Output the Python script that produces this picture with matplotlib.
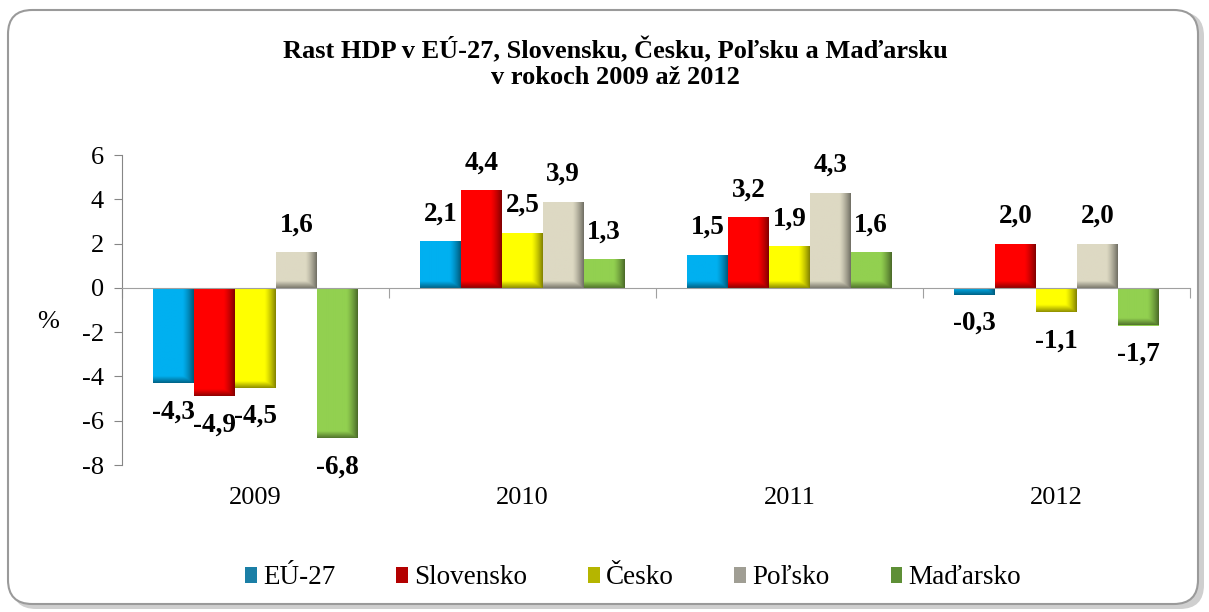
import numpy as np
import matplotlib
matplotlib.use("Agg")
import matplotlib.pyplot as plt
from matplotlib.patches import FancyBboxPatch, Rectangle
from matplotlib.colors import to_rgb
import matplotlib.transforms as mtransforms

years = ["2009", "2010", "2011", "2012"]
series = ["EÚ-27", "Slovensko", "Česko", "Poľsko", "Maďarsko"]
eu27 = [-4.3, 2.1, 1.5, -0.3]
slovensko = [-4.9, 4.4, 3.2, 2.0]
cesko = [-4.5, 2.5, 1.9, -1.1]
polsko = [1.6, 3.9, 4.3, 2.0]
madarsko = [-6.8, 1.3, 1.6, -1.7]
values = [eu27, slovensko, cesko, polsko, madarsko]
colors = ["#00B0F0", "#FF0000", "#FFFF00", "#DDD9C3", "#92D050"]
legend_colors = ["#1B7FA6", "#B30000", "#B5B500", "#A09E94", "#5E8F36"]
yticks = [-8, -6, -4, -2, 0, 2, 4, 6]

plt.rcParams['font.family'] = ['Liberation Serif', 'DejaVu Serif']
FS = 19

W, H = 1209, 612
fig = plt.figure(figsize=(W / 100, H / 100), dpi=100)

# frame with shadow
shadow = FancyBboxPatch((12 / W, 3 / H), 1192 / W, 597 / H,
                        boxstyle="round,pad=0,rounding_size=0.02",
                        transform=fig.transFigure, facecolor="#CFCFCF",
                        edgecolor="none", zorder=0, mutation_aspect=W / H)
fig.patches.append(shadow)
frame = FancyBboxPatch((8 / W, 8 / H), 1190 / W, 594 / H,
                       boxstyle="round,pad=0,rounding_size=0.02",
                       transform=fig.transFigure, facecolor="white",
                       edgecolor="#9A9A9A", linewidth=1.5, zorder=1,
                       mutation_aspect=W / H)
fig.patches.append(frame)

ax = fig.add_axes([122 / W, 147 / H, 1068 / W, 310 / H])
ax.set_zorder(2)
ax.patch.set_alpha(0)

x = np.arange(len(years))
w = 0.153
bars_all = []
for i, (vals, col) in enumerate(zip(values, colors)):
    bars = ax.bar(x + (i - 2) * w, vals, width=w, color=col, edgecolor="none",
                  zorder=2, label=series[i])
    bars_all.append((bars, col))

ax.set_xlim(-0.5, len(years) - 0.5)
ax.set_ylim(-8, 6)

fig.canvas.draw()
# gradient shading per bar (darker right edge and bottom edge)
px_per_unit = ax.transData.transform((0, 1))[1] - ax.transData.transform((0, 0))[1]
for bars, col in bars_all:
    base = np.array(to_rgb(col))
    for b in bars:
        x0, wd = b.get_x(), b.get_width()
        y0, hd = b.get_y(), b.get_height()
        ylo, yhi = min(y0, y0 + hd), max(y0, y0 + hd)
        hpx = max(int(round((yhi - ylo) * px_per_unit)), 2)
        ncols = 40
        xs = (np.arange(ncols) + 0.5) / ncols
        fx = np.where(xs < 0.72, 1.0, 1.0 - 0.5 * ((xs - 0.72) / 0.28) ** 1.3)
        rows = np.arange(hpx) + 0.5  # from top
        dist_bottom = hpx - rows
        fy = np.where(dist_bottom > 7, 1.0, 1.0 - 0.45 * (1 - dist_bottom / 7))
        f = np.minimum(fx[None, :], fy[:, None])
        img = base[None, None, :] * f[:, :, None]
        im = ax.imshow(img, extent=[x0, x0 + wd, ylo, yhi], aspect='auto',
                       interpolation='bilinear', zorder=2.5, origin='upper')
        im.set_clip_path(b)

# data labels (label centre distance from bar end, in points)
pos_gap, neg_gap = 19.5, 21.0
for i, vals in enumerate(values):
    for j, v in enumerate(vals):
        xp = x[j] + (i - 2) * w
        off = pos_gap if v >= 0 else -neg_gap
        ax.annotate(f"{v:.1f}".replace(".", ","), (xp, v), xytext=(0, off),
                    textcoords="offset points", ha="center", va="center",
                    fontsize=19.5, fontweight="bold", color="black", zorder=5)

# axes styling
for s in ["top", "right"]:
    ax.spines[s].set_visible(False)
ax.spines["left"].set_color("#868686")
ax.spines["bottom"].set_color("#A0A0A0")
ax.spines["bottom"].set_position(("data", 0))
ax.spines["bottom"].set_zorder(3)
ax.set_yticks(yticks)
ax.set_yticklabels([str(t) for t in yticks], fontsize=FS)
ax.tick_params(axis="y", direction="out", length=6, color="#868686", pad=7)
ax.set_xticks(np.arange(-0.5, len(years), 1.0))
ax.set_xticklabels([])
ax.tick_params(axis="x", direction="out", length=7, color="#A0A0A0")
bt = mtransforms.blended_transform_factory(ax.transData, ax.transAxes)
for j, yr in enumerate(years):
    ax.text(x[j], -33 / 310, yr, transform=bt, ha="center", va="center", fontsize=FS)

fig.text(48 / W, 1 - 322 / H, "%", fontsize=FS, ha="center", va="center")

fig.text(615 / W, 1 - 50 / H, "Rast HDP v EÚ-27, Slovensku, Česku, Poľsku a Maďarsku",
         ha="center", va="center", fontsize=19, fontweight="bold")
fig.text(615 / W, 1 - 78 / H, "v rokoch 2009 až 2012",
         ha="center", va="center", fontsize=19, fontweight="bold")

handles = [Rectangle((0, 0), 1, 1, facecolor=c, edgecolor="none") for c in legend_colors]
leg = fig.legend(handles, series, loc="center", bbox_to_anchor=(633 / W, 1 - 578 / H),
                 ncol=5, frameon=False, fontsize=19.5, handlelength=0.44,
                 handleheight=0.5, handletextpad=0.22, columnspacing=2.25)

fig.savefig("out.png", dpi=100)
